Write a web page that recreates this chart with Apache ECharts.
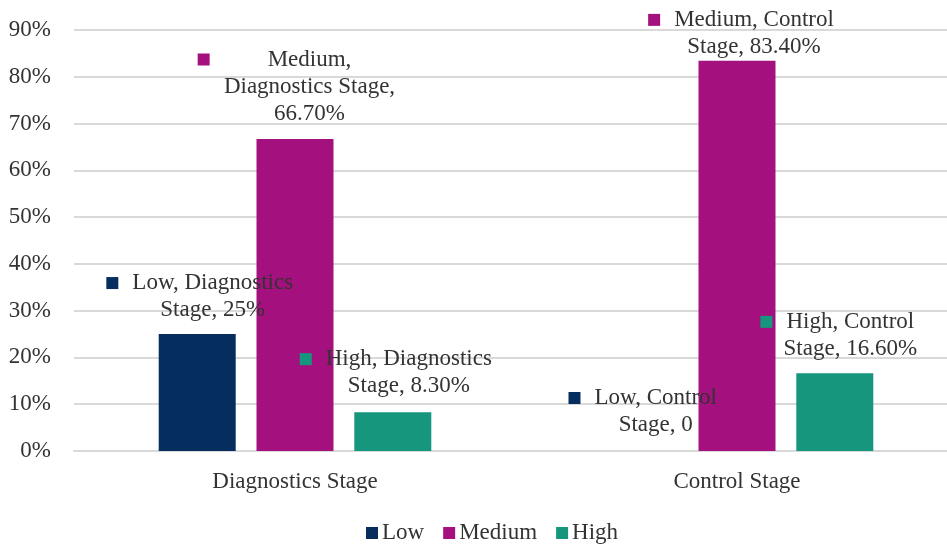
<!DOCTYPE html>
<html>
<head>
<meta charset="utf-8">
<script src="https://cdn.jsdelivr.net/npm/echarts@6/dist/echarts.min.js"></script>
<style>html,body{margin:0;padding:0;background:#fff;overflow:hidden;width:947px;height:546px}#c{width:958px;height:546px}</style>
</head>
<body>
<div id="c"></div>
<script>
const categories = ['Diagnostics Stage', 'Control Stage'];
const seriesNames = ['Low', 'Medium', 'High'];
const lowValues = [25, 0];
const mediumValues = [66.7, 83.4];
const highValues = [8.3, 16.6];
const colors = ['#052D5E', '#A5107F', '#16967D'];

// label layout (style only): offset of label centre from bar's top-left, word-break indices, gap before first line
const labelLayout = {
  Low:    [{pos: [54, -37.5], breaks: [2], gap: 'g'}, {pos: [55, -39.5], breaks: [2], gap: 'g'}],
  Medium: [{pos: [53, -52.5], breaks: [1, 3], gap: 'gw'}, {pos: [55.5, -27.5], breaks: [2], gap: 'g'}],
  High:   [{pos: [54.5, -39.5], breaks: [2], gap: 'g'}, {pos: [54, -38], breaks: [2], gap: 'g'}]
};

const FONT = 'Liberation Serif';
const FS = 23;
const TXT = '#333333';

function fmtVal(v) {
  if (v === 0) return '0';
  return Number.isInteger(v) ? v + '%' : v.toFixed(2) + '%';
}

function buildLabel(sName, cat, v, lay) {
  const words = [sName + ',', ...cat.split(' ')];
  words[words.length - 1] += ',';
  words.push(fmtVal(v));
  const lines = [];
  let cur = [];
  words.forEach((w, i) => {
    if (lay.breaks.includes(i) && cur.length) { lines.push(cur.join(' ')); cur = []; }
    cur.push(w);
  });
  lines.push(cur.join(' '));
  const sp = lay.gap === 'gw' ? 'spw' : 'sp';
  return lines.map((l, i) => i === 0 ? '{sq|}{' + lay.gap + '|}{t|' + l + '}{' + sp + '|}' : '{t|' + l + '}').join('\n');
}

function makeSeries(idx, values) {
  const name = seriesNames[idx];
  return {
    name: name,
    type: 'bar',
    barWidth: 77,
    barGap: '27%',
    itemStyle: {color: colors[idx]},
    data: values.map((v, j) => ({
      value: v,
      label: {
        show: true,
        position: labelLayout[name][j].pos,
        align: 'center',
        verticalAlign: 'middle',
        formatter: () => buildLabel(name, categories[j], v, labelLayout[name][j])
      }
    })),
    label: {
      fontFamily: FONT,
      fontSize: FS,
      color: TXT,
      lineHeight: 27,
      rich: {
        t: {fontFamily: FONT, fontSize: FS, color: TXT, lineHeight: 27},
        sq: {width: 12, height: 12, backgroundColor: colors[idx], verticalAlign: 'middle'},
        g: {width: 14, height: 12},
        gw: {width: 58, height: 12},
        sp: {width: 26, height: 12},
        spw: {width: 70, height: 12}
      }
    },
    z: 2
  };
}

const chart = echarts.init(document.getElementById('c'));
chart.setOption({
  animation: false,
  color: colors,
  grid: {left: 74, right: 0, top: 30, bottom: 95, containLabel: false},
  legend: {
    data: seriesNames,
    top: 516,
    left: 361,
    icon: 'rect',
    itemWidth: 12,
    itemHeight: 12,
    itemGap: 19,
    textStyle: {fontFamily: FONT, fontSize: FS, color: TXT, lineHeight: 24, padding: [0, 0, 0, -1]}
  },
  xAxis: {
    type: 'category',
    data: categories,
    axisLine: {lineStyle: {color: '#D9D9D9', width: 2}},
    axisTick: {show: false},
    axisLabel: {fontFamily: FONT, fontSize: FS, color: TXT, margin: 19}
  },
  yAxis: {
    type: 'value',
    min: 0, max: 90, interval: 10,
    axisLine: {show: false},
    axisTick: {show: false},
    splitLine: {lineStyle: {color: '#D9D9D9', width: 2}},
    axisLabel: {fontFamily: FONT, fontSize: FS, color: TXT, margin: 23, formatter: '{value}%'}
  },
  series: [makeSeries(0, lowValues), makeSeries(1, mediumValues), makeSeries(2, highValues)]
});
</script>
</body>
</html>
